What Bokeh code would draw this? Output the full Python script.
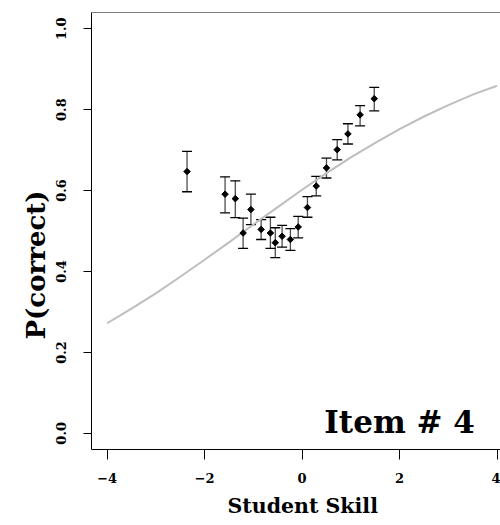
import math
from bokeh.plotting import figure
from bokeh.models import (ColumnDataSource, Whisker, TeeHead, Label, Span,
                          FixedTicker, Range1d, Title)
from bokeh.embed import file_html
from bokeh.resources import INLINE

# ---- data ----
skill = [-2.36, -1.58, -1.37, -1.21, -1.05, -0.84, -0.65, -0.55, -0.41,
         -0.24, -0.08, 0.11, 0.29, 0.50, 0.72, 0.94, 1.19, 1.48]
p_obs = [0.647, 0.591, 0.580, 0.495, 0.553, 0.504, 0.495, 0.471, 0.487,
         0.479, 0.510, 0.558, 0.611, 0.656, 0.701, 0.740, 0.787, 0.827]
p_lo = [0.597, 0.545, 0.533, 0.457, 0.516, 0.479, 0.457, 0.434, 0.460,
        0.452, 0.483, 0.534, 0.587, 0.631, 0.676, 0.715, 0.760, 0.797]
p_hi = [0.697, 0.634, 0.624, 0.532, 0.591, 0.528, 0.534, 0.508, 0.514,
        0.506, 0.536, 0.585, 0.635, 0.680, 0.726, 0.765, 0.810, 0.855]

curve_x = [-4, -3.5, -3, -2.5, -2, -1.5, -1, -0.5, 0, 0.5, 1, 1.5, 2,
           2.5, 3, 3.5, 4]
curve_p = [0.272, 0.308, 0.346, 0.387, 0.429, 0.472, 0.516, 0.559, 0.602,
           0.643, 0.682, 0.718, 0.752, 0.783, 0.811, 0.837, 0.859]

x_ticks = [-4, -2, 0, 2, 4]
x_tick_labels = ["\u22124", "\u22122", "0", "2", "4"]
y_ticks = [0.0, 0.2, 0.4, 0.6, 0.8, 1.0]
y_tick_labels = ["0.0", "0.2", "0.4", "0.6", "0.8", "1.0"]

x_title = "Student Skill"
y_title = "P(correct)"
item_text = "Item # 4"

FONT = "DejaVu Serif"

W, H = 500, 525
LEFT, RIGHT, TOP, BOTTOM = 91, 0, 12, 76
x_start = -4.32
px_per_unit = 48.75
x_end = x_start + (W - LEFT - RIGHT) / px_per_unit

p = figure(width=W, height=H, output_backend="svg", toolbar_location=None,
           x_range=Range1d(x_start, x_end), y_range=Range1d(-0.04, 1.04),
           min_border_left=LEFT, min_border_right=RIGHT,
           min_border_top=TOP, min_border_bottom=BOTTOM)
p.background_fill_color = "white"
p.border_fill_color = "white"
p.outline_line_color = None
p.xgrid.visible = False
p.ygrid.visible = False

# axes
p.xaxis.ticker = FixedTicker(ticks=x_ticks)
p.xaxis.major_label_overrides = {t: l for t, l in zip(x_ticks, x_tick_labels)}
p.yaxis.ticker = FixedTicker(ticks=y_ticks)
p.yaxis.major_label_overrides = {t: l for t, l in zip(y_ticks, y_tick_labels)}
for ax in (p.xaxis, p.yaxis):
    ax.axis_line_color = "black"
    ax.axis_line_width = 1
    ax.major_tick_line_color = "black"
    ax.major_tick_in = 0
    ax.minor_tick_line_color = None
    ax.major_label_text_font = FONT
    ax.major_label_text_font_style = "bold"
    ax.major_label_text_font_size = "13px"
    ax.major_label_text_color = "black"
p.xaxis.major_tick_out = 10
p.xaxis.major_label_standoff = 13
p.yaxis.major_tick_out = 8
p.yaxis.major_label_standoff = 17
p.yaxis.major_label_orientation = "vertical"

# x title placed below the axis, aligned to start where the reference does
p.add_layout(Title(text=x_title, align="left", offset=136, standoff=13,
                   text_font=FONT, text_font_style="bold",
                   text_font_size="20.5px", text_color="black"), "below")

# y title on the left, shifted along the axis like the reference
p.add_layout(Title(text=y_title, align="left", offset=110, standoff=6,
                   text_font=FONT, text_font_style="bold",
                   text_font_size="26px", text_color="black"), "left")

# top border of the box
p.add_layout(Span(location=1.04, dimension="width", line_color="black",
                  line_width=1))

# model curve
p.line(curve_x, curve_p, line_color="#BEBEBE", line_width=2)

# error bars
src = ColumnDataSource(dict(x=skill, y=p_obs, lo=p_lo, hi=p_hi))
wh = Whisker(base="x", upper="hi", lower="lo", source=src,
             line_color="#4d4d4d", line_width=1.3,
             upper_head=TeeHead(size=10, line_color="black", line_width=1.3),
             lower_head=TeeHead(size=10, line_color="black", line_width=1.3))
p.add_layout(wh)

# points (filled diamonds)
p.scatter("x", "y", source=src, marker="square", angle=math.pi / 4,
          size=4.6, fill_color="black", line_color="black")

p.add_layout(Label(x=2.0, y=0.027, text=item_text, text_align="center",
                   text_baseline="alphabetic", text_font=FONT,
                   text_font_style="bold", text_font_size="31px",
                   text_color="black"))

open("out.html", "w").write(file_html(p, INLINE))
